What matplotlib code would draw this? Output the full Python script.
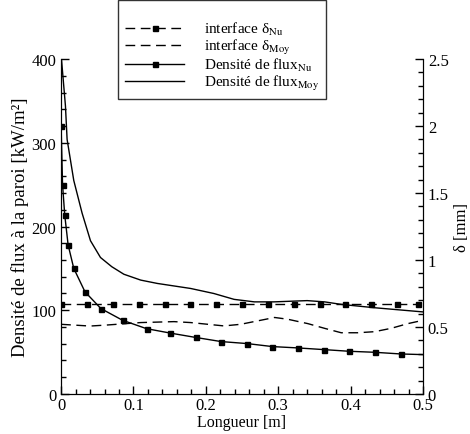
import numpy as np
import matplotlib
matplotlib.use("Agg")
import matplotlib.pyplot as plt
from matplotlib.ticker import MultipleLocator

plt.rcParams["font.family"] = ["Liberation Serif", "DejaVu Serif"]
plt.rcParams["mathtext.fontset"] = "stix"

# heat flux along the wall (left axis, kW/m2)
x_flux_nu = [0.0, 0.002, 0.005, 0.0097, 0.0175, 0.033, 0.055, 0.085, 0.118, 0.151, 0.186,
             0.221, 0.257, 0.292, 0.327, 0.363, 0.398, 0.433, 0.469, 0.5]
flux_nu = [320, 250, 214, 178, 150, 122, 102, 88, 78, 72.7, 67.5,
           62.6, 60.2, 56.6, 55, 53, 51, 49.8, 47.8, 47]

x_flux_moy = [0.0005, 0.006, 0.0083, 0.0175, 0.029, 0.0406, 0.0544, 0.07, 0.0867, 0.11, 0.133,
              0.179, 0.211, 0.239, 0.267, 0.294, 0.34, 0.364, 0.387, 0.433, 0.5]
flux_moy = [400, 344, 304, 255, 216, 183, 163, 152, 143, 136, 132,
            126, 120, 113, 110, 110, 111.5, 110, 107, 103, 98]

# interface thickness (right axis, mm)
x_delta_nu = [0.0, 0.0357, 0.0714, 0.1071, 0.1429, 0.1786, 0.2143, 0.25, 0.2857, 0.3214,
              0.3571, 0.3929, 0.4286, 0.4643, 0.4935]
delta_nu = [0.675, 0.675, 0.675, 0.675, 0.675, 0.675, 0.675, 0.675, 0.675, 0.675,
            0.675, 0.675, 0.675, 0.675, 0.675]

x_delta_moy = [0.0, 0.04, 0.064, 0.11, 0.156, 0.179, 0.225, 0.248, 0.271, 0.295, 0.313,
               0.341, 0.364, 0.387, 0.41, 0.433, 0.456, 0.479, 0.5]
delta_moy = [0.52, 0.507, 0.515, 0.533, 0.54, 0.533, 0.508, 0.52, 0.545, 0.571, 0.558,
             0.525, 0.49, 0.457, 0.457, 0.465, 0.49, 0.525, 0.55]

fig = plt.figure(figsize=(4.7, 4.35), dpi=100)
ax = fig.add_axes([0.13, 0.092, 0.77, 0.77])
ax2 = ax.twinx()

lw = 1.0
dash = (7, 4)
l1, = ax2.plot(x_delta_nu, delta_nu, color="black", lw=lw, dashes=dash,
               marker="s", ms=3.6, label=r"interface δ$_{\mathrm{Nu}}$")
l2, = ax2.plot(x_delta_moy, delta_moy, color="black", lw=lw, dashes=dash,
               label=r"interface δ$_{\mathrm{Moy}}$")
l3, = ax.plot(x_flux_nu, flux_nu, color="black", lw=lw, marker="s", ms=3.6,
              markevery=list(range(len(x_flux_nu) - 1)), label=r"Densité de flux$_{\mathrm{Nu}}$")
l4, = ax.plot(x_flux_moy, flux_moy, color="black", lw=lw, label=r"Densité de flux$_{\mathrm{Moy}}$")

ax.set_xlim(0, 0.5)
ax.set_ylim(0, 400)
ax2.set_ylim(0, 2.5)
ax.set_xticks([0, 0.1, 0.2, 0.3, 0.4, 0.5])
ax.set_xticklabels(["0", "0.1", "0.2", "0.3", "0.4", "0.5"])
ax.set_yticks([0, 100, 200, 300, 400])
ax2.set_yticks([0, 0.5, 1, 1.5, 2, 2.5])
ax2.set_yticklabels(["0", "0.5", "1", "1.5", "2", "2.5"])
ax.xaxis.set_minor_locator(MultipleLocator(0.02))
ax.yaxis.set_minor_locator(MultipleLocator(20))
ax2.yaxis.set_minor_locator(MultipleLocator(0.1))

for a in (ax, ax2):
    a.spines["top"].set_visible(False)
    a.tick_params(which="both", direction="in", labelsize=12, width=1)
    a.tick_params(which="major", length=6)
    a.tick_params(which="minor", length=3.5)
ax.tick_params(axis="x", pad=2)

ax.set_xlabel("Longueur [m]", fontsize=11.5, labelpad=1)
ax.set_ylabel("Densité de flux à la paroi [kW/m²]", fontsize=13.5, labelpad=2)
ax2.set_ylabel("δ [mm]", fontsize=12, labelpad=4)

leg = fig.legend(handles=[l1, l2, l3, l4], loc="upper left", bbox_to_anchor=(0.251, 0.997),
                 fontsize=11, title=" ", title_fontsize=11, frameon=True, fancybox=False,
                 edgecolor="black", handlelength=3.9, handletextpad=1.3, borderpad=0.45,
                 labelspacing=0.0, borderaxespad=0)
leg.get_frame().set_linewidth(1)

fig.savefig("out.png", dpi=100)
